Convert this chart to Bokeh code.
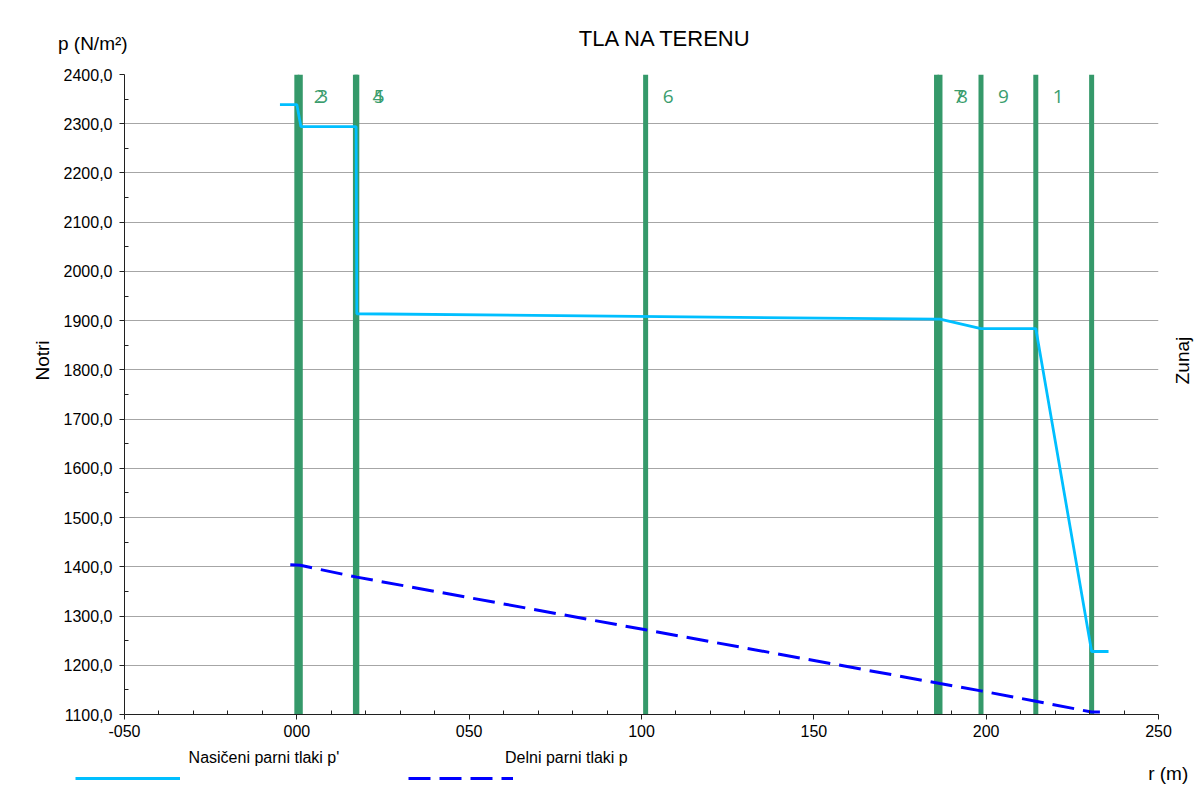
from bokeh.plotting import figure
from bokeh.models import FixedTicker, Legend, Label, Range1d
from bokeh.embed import file_html
from bokeh.resources import INLINE
from bokeh.core.properties import value

# ---- data ----
x_ticks = [-50, 0, 50, 100, 150, 200, 250]
x_tick_labels = ["-050", "000", "050", "100", "150", "200", "250"]
x_minor = [-40, -30, -20, -10, 10, 20, 30, 40, 60, 70, 80, 90, 110, 120, 130, 140,
           160, 170, 180, 190, 210, 220, 230, 240]
y_ticks = [1100, 1200, 1300, 1400, 1500, 1600, 1700, 1800, 1900, 2000, 2100, 2200, 2300, 2400]
y_tick_labels = ["1100,0", "1200,0", "1300,0", "1400,0", "1500,0", "1600,0", "1700,0",
                 "1800,0", "1900,0", "2000,0", "2100,0", "2200,0", "2300,0", "2400,0"]
y_minor = [1150, 1250, 1350, 1450, 1550, 1650, 1750, 1850, 1950, 2050, 2150, 2250, 2350]

# layer boundaries (m) and layer numbers
boundaries = [0, 1, 17.0, 17.4, 101.2, 185.6, 186.6, 198.5, 214.4, 230.6]
layer_labels = ["2", "3", "4", "5", "6", "7", "8", "9", "1"]

# saturated vapour pressure p'
sat_r = [-4.9, 0, 1.2, 17.2, 17.4, 185.6, 186.6, 198.5, 214.4, 230.6, 235.5]
sat_p = [2339, 2339, 2294, 2294, 1914, 1903, 1903, 1884, 1884, 1228, 1228]

# partial vapour pressure p
part_r = [-1.9, 1, 17.4, 101.2, 186.6, 198.5, 214.4, 230.6, 233]
part_p = [1404, 1403, 1379, 1272, 1163, 1148, 1127, 1105, 1105]

series_names = ["Nasičeni parni tlaki p'", "Delni parni tlaki p"]

X_MIN, X_MAX = -50, 250
Y_MIN, Y_MAX = 1100, 2400

FONT = "Liberation Sans"
GREEN = "#35996a"
CYAN = "#00bfff"
BLUE = "#0000ff"

p = figure(frame_width=1034, frame_height=640,
           x_range=Range1d(X_MIN, X_MAX), y_range=Range1d(Y_MIN, Y_MAX),
           output_backend="svg", toolbar_location=None,
           min_border_left=124, min_border_right=35, min_border_top=74, min_border_bottom=73)
p.outline_line_color = None
p.background_fill_color = "white"
p.border_fill_color = "white"

# axes
p.xaxis.ticker = FixedTicker(ticks=x_ticks, minor_ticks=x_minor)
p.xaxis.major_label_overrides = dict(zip(x_ticks, x_tick_labels))
p.yaxis.ticker = FixedTicker(ticks=y_ticks, minor_ticks=y_minor)
p.yaxis.major_label_overrides = dict(zip(y_ticks, y_tick_labels))
for ax in (p.xaxis[0], p.yaxis[0]):
    ax.axis_line_color = "#202020"
    ax.major_tick_line_color = "#202020"
    ax.minor_tick_line_color = "#202020"
    ax.major_tick_in = 0
    ax.major_tick_out = 5
    ax.minor_tick_in = 4
    ax.minor_tick_out = 0
    ax.major_label_text_font = FONT
    ax.major_label_text_font_size = "16px"
    ax.major_label_text_color = "black"
p.yaxis.major_label_standoff = 7
p.xaxis.major_label_standoff = 5

p.xgrid.visible = False
p.ygrid.ticker = FixedTicker(ticks=y_ticks)
p.ygrid.grid_line_color = "#a6a6a6"
p.ygrid.grid_line_width = 1.2

# layer boundaries
p.segment(x0=boundaries, x1=boundaries, y0=[Y_MIN] * len(boundaries), y1=[Y_MAX] * len(boundaries),
          line_color=GREEN, line_width=5)
p.text(x=boundaries[:len(layer_labels)], y=[2355] * len(layer_labels), text=layer_labels,
       x_offset=17, text_align="left", text_baseline="middle",
       text_font=value("Open Sans"), text_font_size="19px", text_color="#3a9d6d")

# curves
r_sat = p.line(sat_r, sat_p, line_color=CYAN, line_width=2.8)
r_part = p.line(part_r, part_p, line_color=BLUE, line_width=3, line_dash="22 9")

# legend line samples (right side panel, shifted to below the x axis);
# the series names are written above the samples as labels
legend = Legend(items=[(" ", [r_sat]), (" ", [r_part])],
                orientation="horizontal", location=(-1083, -74),
                glyph_width=105, glyph_height=20, label_height=20, label_width=0,
                label_standoff=0, spacing=228, padding=0, margin=0,
                border_line_color=None, background_fill_alpha=0,
                label_text_font=FONT, label_text_font_size="1px")
p.add_layout(legend, "right")

# texts (placed in side panels so they are not clipped to the frame)
p.add_layout(Label(x=107, y=2473, text="TLA NA TERENU", text_align="center", text_baseline="middle",
                   text_font=FONT, text_font_size="22px", text_color="black"), "above")
p.add_layout(Label(x=-69.3, y=2463, text="p (N/m²)", text_align="left", text_baseline="middle",
                   text_font=FONT, text_font_size="19px", text_color="black"), "above")
p.add_layout(Label(x=-73.8, y=1819, text="Notri", angle=1.5708, text_align="center",
                   text_baseline="middle", text_font=FONT, text_font_size="19px", text_color="black"), "left")
p.add_layout(Label(x=256.9, y=1819, text="Zunaj", angle=1.5708, text_align="center",
                   text_baseline="middle", text_font=FONT, text_font_size="19px", text_color="black"), "right")
p.add_layout(Label(x=247.0, y=980, text="r (m)", text_align="left", text_baseline="middle",
                   text_font=FONT, text_font_size="19px", text_color="black"), "right")
p.add_layout(Label(x=-31.4, y=1012.7, text=series_names[0], text_align="left", text_baseline="middle",
                   text_font=FONT, text_font_size="16px", text_color="black"), "right")
p.add_layout(Label(x=60.4, y=1012.7, text=series_names[1], text_align="left", text_baseline="middle",
                   text_font=FONT, text_font_size="16px", text_color="black"), "right")

open("out.html", "w").write(file_html(p, INLINE))
